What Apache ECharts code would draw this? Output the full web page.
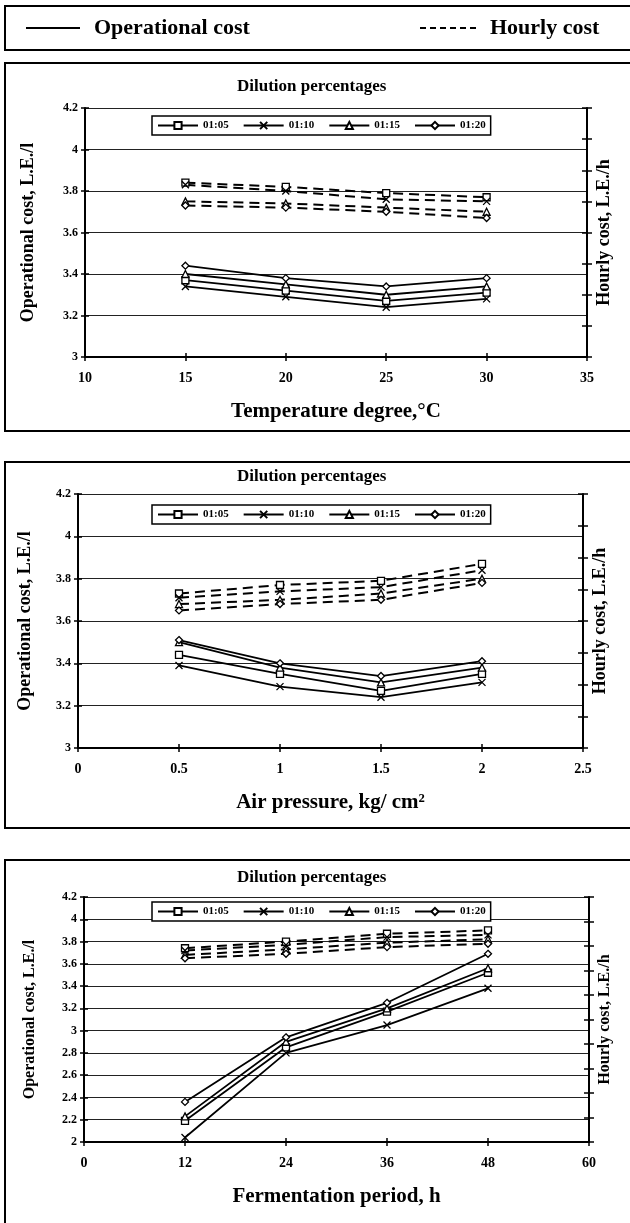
<!DOCTYPE html>
<html><head><meta charset="utf-8">
<script src="https://cdn.jsdelivr.net/npm/echarts@6/dist/echarts.min.js"></script>
<style>html,body{margin:0;padding:0;background:#fff}#c{width:630px;height:1223px}</style>
</head><body><div id="c"></div>
<script>
// ---------------- DATA ----------------
const dilutions = ['01:05', '01:10', '01:15', '01:20'];

const temperatureX = [15, 20, 25, 30];
const temperatureOperational = [
  [3.37, 3.32, 3.27, 3.31],
  [3.34, 3.29, 3.24, 3.28],
  [3.40, 3.35, 3.30, 3.34],
  [3.44, 3.38, 3.34, 3.38]
];
const temperatureHourly = [
  [3.84, 3.82, 3.79, 3.77],
  [3.83, 3.80, 3.76, 3.75],
  [3.75, 3.74, 3.72, 3.70],
  [3.73, 3.72, 3.70, 3.67]
];

const pressureX = [0.5, 1, 1.5, 2];
const pressureOperational = [
  [3.44, 3.35, 3.27, 3.35],
  [3.39, 3.29, 3.24, 3.31],
  [3.50, 3.38, 3.31, 3.38],
  [3.51, 3.40, 3.34, 3.41]
];
const pressureHourly = [
  [3.73, 3.77, 3.79, 3.87],
  [3.71, 3.74, 3.76, 3.84],
  [3.68, 3.70, 3.73, 3.80],
  [3.65, 3.68, 3.70, 3.78]
];

const fermentationX = [12, 24, 36, 48];
const fermentationOperational = [
  [2.19, 2.85, 3.17, 3.52],
  [2.04, 2.80, 3.05, 3.38],
  [2.23, 2.90, 3.20, 3.56],
  [2.36, 2.94, 3.25, 3.69]
];
const fermentationHourly = [
  [3.74, 3.80, 3.87, 3.90],
  [3.72, 3.77, 3.84, 3.86],
  [3.68, 3.73, 3.79, 3.82],
  [3.65, 3.69, 3.75, 3.78]
];

const panelTitle = 'Dilution percentages';
const xNames = ['Temperature degree,°C', 'Air pressure, kg/ cm²', 'Fermentation period, h'];
const leftName = 'Operational cost, L.E./l';
const rightName = 'Hourly cost, L.E./h';
const xRanges = [[10, 35, 5], [0, 2.5, 0.5], [0, 60, 12]];
const yRanges = [[3, 4.2, 0.2], [3, 4.2, 0.2], [2, 4.2, 0.2]];
const rightSplits = [8, 8, 10];

// ---------------- STYLE ----------------
const FONT = '"Liberation Serif","DejaVu Serif",serif';
const symbols = ['rect', 'path://M0,0L10,10M10,0L0,10', 'triangle', 'diamond'];
const grids = [
  {left: 85, top: 108, width: 502, height: 249},
  {left: 78, top: 494, width: 505, height: 254},
  {left: 84, top: 897, width: 505, height: 245}
];
const legendTops = [116, 505, 902];
const nameSizes = [18, 18, 16];
const leftGaps = [48, 44, 46];

const xs = [temperatureX, pressureX, fermentationX];
const opers = [temperatureOperational, pressureOperational, fermentationOperational];
const hours = [temperatureHourly, pressureHourly, fermentationHourly];

const xAxis = [], yAxis = [], series = [], legend = [], title = [];
grids.forEach((g, p) => {
  const [xmin, xmax, xint] = xRanges[p];
  const [ymin, ymax, yint] = yRanges[p];
  xAxis.push({
    type: 'value', gridIndex: p, min: xmin, max: xmax, interval: xint,
    name: xNames[p], nameLocation: 'middle', nameGap: 44,
    nameTextStyle: {fontFamily: FONT, fontWeight: 'bold', fontSize: 21, color: '#000'},
    axisLine: {show: true, lineStyle: {color: '#000', width: 2}},
    axisTick: {show: true, length: 4, lineStyle: {color: '#000', width: 1.5}},
    axisLabel: {fontFamily: FONT, fontWeight: 'bold', fontSize: 14, color: '#000', margin: 14},
    splitLine: {show: false}
  });
  xAxis.push({
    type: 'value', gridIndex: p, min: xmin, max: xmax, interval: xint, position: 'bottom',
    axisLine: {show: false}, axisLabel: {show: false}, splitLine: {show: false},
    axisTick: {show: true, inside: true, length: 4, lineStyle: {color: '#000', width: 1.5}}
  });
  yAxis.push({
    type: 'value', gridIndex: p, min: ymin, max: ymax, interval: yint, position: 'left',
    name: leftName, nameLocation: 'middle', nameGap: leftGaps[p], nameRotate: 90,
    nameTextStyle: {fontFamily: FONT, fontWeight: 'bold', fontSize: nameSizes[p], color: '#000'},
    axisLine: {show: true, lineStyle: {color: '#000', width: 2}},
    axisTick: {show: true, length: 4, lineStyle: {color: '#000', width: 1.5}},
    axisLabel: {fontFamily: FONT, fontWeight: 'bold', fontSize: 12, color: '#000', margin: 7},
    splitLine: {show: true, lineStyle: {color: '#222', width: 1.2}}
  });
  yAxis.push({
    type: 'value', gridIndex: p, min: ymin, max: ymax, interval: yint, position: 'left',
    axisLine: {show: false}, axisLabel: {show: false}, splitLine: {show: false},
    axisTick: {show: true, inside: true, length: 4, lineStyle: {color: '#000', width: 1.5}}
  });
  yAxis.push({
    type: 'value', gridIndex: p, min: 0, max: rightSplits[p], interval: 1, position: 'right',
    name: rightName, nameLocation: 'middle', nameGap: 8, nameRotate: 90,
    nameTextStyle: {fontFamily: FONT, fontWeight: 'bold', fontSize: nameSizes[p], color: '#000'},
    axisLine: {show: true, lineStyle: {color: '#000', width: 2}},
    axisTick: {show: true, length: 5, lineStyle: {color: '#000', width: 1.5}},
    axisLabel: {show: false}, splitLine: {show: false}
  });
  yAxis.push({
    type: 'value', gridIndex: p, min: 0, max: rightSplits[p], interval: 1, position: 'right',
    axisLine: {show: false}, axisLabel: {show: false}, splitLine: {show: false},
    axisTick: {show: true, inside: true, length: 5, lineStyle: {color: '#000', width: 1.5}}
  });
  dilutions.forEach((d, i) => {
    const common = {
      name: d, type: 'line', xAxisIndex: 2 * p, yAxisIndex: 4 * p,
      symbol: symbols[i], symbolSize: 7, showSymbol: true, animation: false,
      itemStyle: {color: '#fff', borderColor: '#000', borderWidth: 1.3},
      z: 3
    };
    series.push(Object.assign({}, common, {
      data: xs[p].map((x, k) => [x, opers[p][i][k]]),
      lineStyle: {color: '#000', width: 1.8, type: 'solid'}
    }));
    series.push(Object.assign({}, common, {
      data: xs[p].map((x, k) => [x, hours[p][i][k]]),
      lineStyle: {color: '#000', width: 2, type: [10, 6]}
    }));
  });
  legend.push({
    left: 152, top: legendTops[p], data: dilutions,
    itemWidth: 40, itemHeight: 9, itemGap: 14, padding: [4, 5],
    backgroundColor: '#fff', borderColor: '#000', borderWidth: 1.5,
    textStyle: {fontFamily: FONT, fontWeight: 'bold', fontSize: 11, color: '#000'},
    selectedMode: false
  });
  title.push({
    text: panelTitle, left: 232, top: g.top - 35,
    textStyle: {fontFamily: FONT, fontWeight: 'bold', fontSize: 17, color: '#000'}
  });
});
title[1].top = 463; title[2].top = 864;

const graphic = [
  {type: 'rect', shape: {x: 5, y: 6, width: 640, height: 44}, style: {fill: 'none', stroke: '#000', lineWidth: 2}},
  {type: 'line', shape: {x1: 26, y1: 28, x2: 80, y2: 28}, style: {stroke: '#000', lineWidth: 1.8}},
  {type: 'text', x: 94, y: 28, style: {text: 'Operational cost', font: 'bold 22px ' + FONT, fill: '#000', verticalAlign: 'middle'}},
  {type: 'line', shape: {x1: 420, y1: 28, x2: 480, y2: 28}, style: {stroke: '#000', lineWidth: 1.8, lineDash: [6, 4]}},
  {type: 'text', x: 490, y: 28, style: {text: 'Hourly cost', font: 'bold 22px ' + FONT, fill: '#000', verticalAlign: 'middle'}},
  {type: 'rect', shape: {x: 5, y: 63, width: 640, height: 368}, style: {fill: 'none', stroke: '#000', lineWidth: 2}},
  {type: 'rect', shape: {x: 5, y: 462, width: 640, height: 366}, style: {fill: 'none', stroke: '#000', lineWidth: 2}},
  {type: 'rect', shape: {x: 5, y: 860, width: 640, height: 400}, style: {fill: 'none', stroke: '#000', lineWidth: 2}}
];

const chart = echarts.init(document.getElementById('c'), null, {renderer: 'canvas'});
chart.setOption({
  backgroundColor: '#fff',
  animation: false,
  title, legend, grid: grids, xAxis, yAxis, series, graphic
});
</script>
</body></html>
